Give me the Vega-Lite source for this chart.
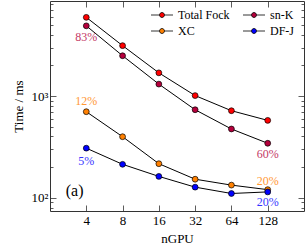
{
  "$schema": "https://vega.github.io/schema/vega-lite/v6.json",
  "width": 254,
  "height": 210,
  "autosize": "none",
  "padding": {"left": 50, "top": 1, "right": 1, "bottom": 36},
  "config": {
    "view": {"stroke": "#333", "strokeWidth": 1},
    "font": "Liberation Serif",
    "axis": {"grid": false, "domain": false, "tickColor": "#333", "tickWidth": 0.8, "labelFont": "Liberation Serif", "titleFont": "Liberation Serif", "labelFontSize": 13, "titleFontSize": 13, "titleFontWeight": "normal", "labelColor": "#000", "titleColor": "#000"}
  },
  "datasets": {
    "series": [
      {"nGPU": 4, "time": 5940, "series": "Total Fock"},
      {"nGPU": 8, "time": 3130, "series": "Total Fock"},
      {"nGPU": 16, "time": 1690, "series": "Total Fock"},
      {"nGPU": 32, "time": 1010, "series": "Total Fock"},
      {"nGPU": 64, "time": 717, "series": "Total Fock"},
      {"nGPU": 128, "time": 576, "series": "Total Fock"},
      {"nGPU": 4, "time": 4900, "series": "sn-K"},
      {"nGPU": 8, "time": 2490, "series": "sn-K"},
      {"nGPU": 16, "time": 1310, "series": "sn-K"},
      {"nGPU": 32, "time": 733, "series": "sn-K"},
      {"nGPU": 64, "time": 474, "series": "sn-K"},
      {"nGPU": 128, "time": 343, "series": "sn-K"},
      {"nGPU": 4, "time": 701, "series": "XC"},
      {"nGPU": 8, "time": 398, "series": "XC"},
      {"nGPU": 16, "time": 216, "series": "XC"},
      {"nGPU": 32, "time": 152, "series": "XC"},
      {"nGPU": 64, "time": 133, "series": "XC"},
      {"nGPU": 128, "time": 120, "series": "XC"},
      {"nGPU": 4, "time": 307, "series": "DF-J"},
      {"nGPU": 8, "time": 213, "series": "DF-J"},
      {"nGPU": 16, "time": 162, "series": "DF-J"},
      {"nGPU": 32, "time": 127, "series": "DF-J"},
      {"nGPU": 64, "time": 110, "series": "DF-J"},
      {"nGPU": 128, "time": 114, "series": "DF-J"}
    ],
    "labels": [
      {"nGPU": 4, "time": 3800, "series": "sn-K", "text": "83%"},
      {"nGPU": 4, "time": 893, "series": "XC", "text": "12%"},
      {"nGPU": 4, "time": 230, "series": "DF-J", "text": "5%"},
      {"nGPU": 128, "time": 269, "series": "sn-K", "text": "60%"},
      {"nGPU": 128, "time": 146, "series": "XC", "text": "20%"},
      {"nGPU": 128, "time": 91, "series": "DF-J", "text": "20%"}
    ],
    "tag": [
      {"nGPU": 3.2, "time": 116, "text": "(a)"}
    ]
  },
  "layer": [
    {
      "data": {"name": "series"},
      "mark": {"type": "line", "color": "black", "strokeWidth": 1},
      "encoding": {
        "x": {"field": "nGPU", "type": "quantitative", "scale": {"type": "log", "base": 2, "domain": [2, 256], "nice": false},
              "axis": {"orient": "bottom", "values": [4, 8, 16, 32, 64, 128], "format": "d", "tickSize": -6, "labelPadding": 9, "title": "nGPU", "titlePadding": 5}},
        "y": {"field": "time", "type": "quantitative", "scale": {"type": "log", "domain": [74, 8600], "nice": false},
              "axis": {"orient": "left", "values": [80, 90, 100, 200, 300, 400, 500, 600, 700, 800, 900, 1000, 2000, 3000, 4000, 5000, 6000, 7000, 8000],
                       "labelExpr": "datum.value == 100 ? '10²' : datum.value == 1000 ? '10³' : ''",
                       "tickSize": {"condition": {"test": "datum.value == 100 || datum.value == 1000", "value": -6}, "value": -3},
                       "labelPadding": 8, "title": "Time / ms", "titlePadding": 6}},
        "detail": {"field": "series"}
      }
    },
    {
      "data": {"name": "series"},
      "mark": {"type": "point", "filled": true, "stroke": "black", "strokeWidth": 0.7, "size": 34, "opacity": 1},
      "encoding": {
        "x": {"field": "nGPU", "type": "quantitative", "axis": null},
        "y": {"field": "time", "type": "quantitative", "axis": null},
        "fill": {"field": "series", "type": "nominal",
                 "scale": {"domain": ["Total Fock", "sn-K", "XC", "DF-J"], "range": ["#ff0000", "#b5003c", "#ff8000", "#0000ff"]},
                 "legend": {"title": null, "orient": "none", "legendX": 106, "legendY": 8, "columns": 2, "direction": "horizontal",
                            "symbolType": "M-2,0H-0.45M0.45,0H2M-0.45,0A0.45,0.45 0 1,1 0.45,0A0.45,0.45 0 1,1 -0.45,0Z",
                            "symbolSize": 121, "symbolStrokeColor": "black", "symbolStrokeWidth": 0.8, "symbolOpacity": 1,
                            "labelOffset": 10, "labelFontSize": 12, "labelFont": "Liberation Serif", "labelColor": "#000",
                            "columnPadding": 11, "rowPadding": 4, "padding": 0}}
      }
    },
    {
      "data": {"name": "labels"},
      "mark": {"type": "text", "fontSize": 12, "align": "center", "baseline": "middle", "opacity": 0.8},
      "encoding": {
        "x": {"field": "nGPU", "type": "quantitative", "axis": null},
        "y": {"field": "time", "type": "quantitative", "axis": null},
        "text": {"field": "text"},
        "fill": {"field": "series", "type": "nominal", "legend": null}
      }
    },
    {
      "data": {"name": "tag"},
      "mark": {"type": "text", "fontSize": 16, "align": "center", "baseline": "middle", "color": "black"},
      "encoding": {
        "x": {"field": "nGPU", "type": "quantitative", "axis": null},
        "y": {"field": "time", "type": "quantitative", "axis": null},
        "text": {"field": "text"}
      }
    },
    {
      "data": {"name": "series"},
      "mark": {"type": "point", "opacity": 0},
      "encoding": {
        "x": {"field": "nGPU", "type": "quantitative",
              "axis": {"orient": "top", "values": [4, 8, 16, 32, 64, 128], "labels": false, "tickSize": -6, "title": null}},
        "y": {"field": "time", "type": "quantitative",
              "axis": {"orient": "right", "values": [80, 90, 100, 200, 300, 400, 500, 600, 700, 800, 900, 1000, 2000, 3000, 4000, 5000, 6000, 7000, 8000],
                       "labels": false, "title": null,
                       "tickSize": {"condition": {"test": "datum.value == 100 || datum.value == 1000", "value": -6}, "value": -3}}}
      }
    }
  ],
  "resolve": {"axis": {"x": "independent", "y": "independent"}}
}
